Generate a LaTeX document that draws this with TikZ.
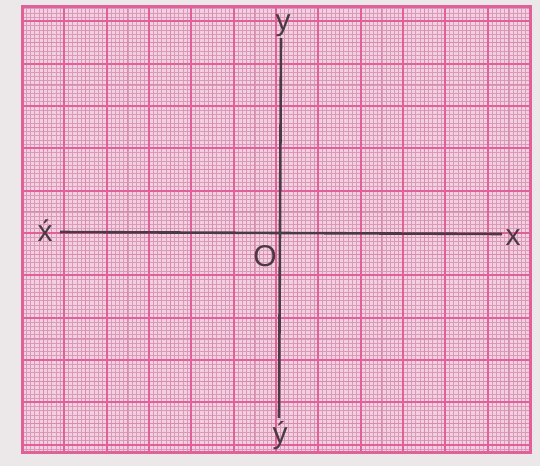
\documentclass[tikz,border=0pt]{standalone}
\usepackage{fontspec}
\setmainfont{Liberation Sans}
\usetikzlibrary{positioning}
\definecolor{pageGrey}{HTML}{ECE8E9}
\definecolor{paperPink}{HTML}{F5CFE0}
\definecolor{gridFine}{HTML}{D69BB8}
\definecolor{gridMajor}{HTML}{E0619A}
\definecolor{axisInk}{HTML}{4A3A44}

\begin{document}
\begin{tikzpicture}[x=1pt, y=-1pt,
  every node/.style={font=\fontsize{30}{34}\selectfont, text=axisInk, inner sep=0pt},
  gridfine/.style={draw=gridFine, line width=0.6pt},
  gridmid/.style={draw=gridFine!70!gridMajor, line width=1pt},
  gridmajor/.style={draw=gridMajor, line width=2pt},
  axis/.style={draw=axisInk, line width=2.6pt}]
\fill[pageGrey] (0,0) rectangle (540,466);
\useasboundingbox (0,0) rectangle (540,466);
% graph paper
\fill[paperPink] (22,6) rectangle (530,452);
\foreach \i in {1,...,119} \draw[gridfine] ({22+4.233*\i},6) -- ({22+4.233*\i},452);
\foreach \j in {-53,...,51} \draw[gridfine] (22,{233+4.233*\j}) -- (530,{233+4.233*\j});
\foreach \i in {5,15,...,115} \draw[gridmid] ({22+4.233*\i},6) -- ({22+4.233*\i},452);
\foreach \j in {-45,-35,...,45} \draw[gridmid] (22,{233+4.233*\j}) -- (530,{233+4.233*\j});
\foreach \i in {10,20,...,110} \draw[gridmajor] ({22+4.233*\i},6) -- ({22+4.233*\i},452);
\foreach \j in {-50,-40,...,50} \draw[gridmajor] (22,{233+4.233*\j}) -- (530,{233+4.233*\j});
\draw[gridmajor, line width=3pt] (22,6) rectangle (530,452);
% axes
\coordinate (yTop) at (281,38);
\coordinate (yBot) at (279,418);
\coordinate (xLeft) at (60,232);
\coordinate (xRight) at (502,234);
\draw[axis] (xLeft) -- (xRight);
\draw[axis] (yTop) -- (yBot);
\node (ylab) at (283,26) {y};
\node (yprime) at (280,436) {\'y};
\node (xprime) at (45,231) {\'x};
\node (xlab) at (513,238) {x};
\node (orig) at (265,256) {O};
\end{tikzpicture}
\end{document}
